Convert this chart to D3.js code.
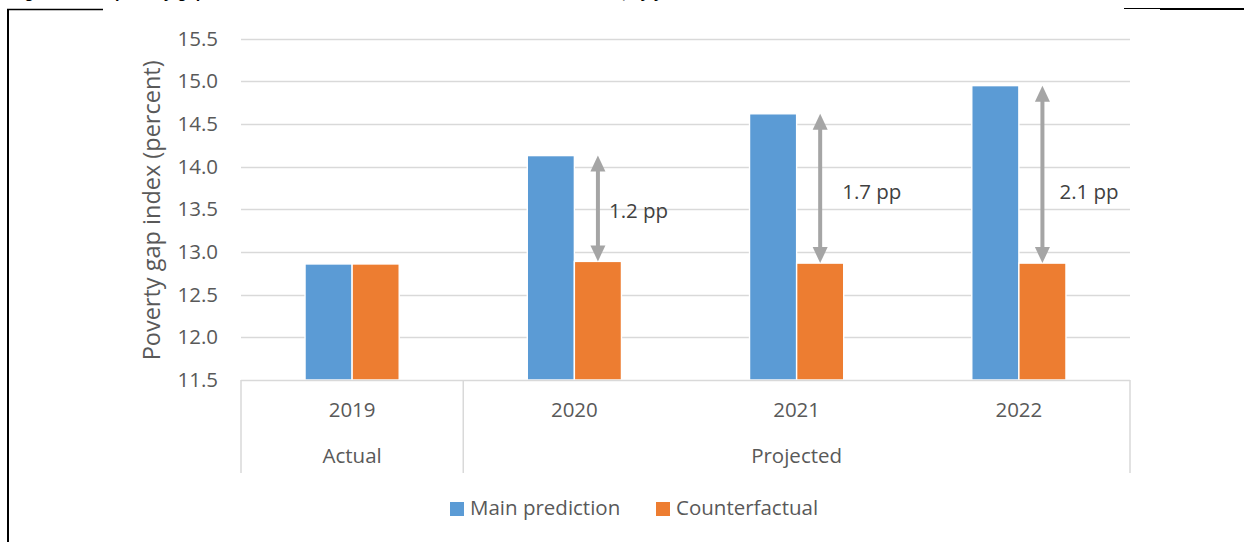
<!DOCTYPE html>
<html>
<head>
<meta charset="utf-8">
<script src="https://cdn.jsdelivr.net/npm/d3@7"></script>
<style>
  html, body { margin: 0; padding: 0; background: #fff; }
  svg { display: block; }
  text { font-family: "Open Sans", "Liberation Sans", sans-serif; fill: #595959; }
</style>
</head>
<body>
<script>
// ---- data ----
const years = ["2019", "2020", "2021", "2022"];
const periods = ["Actual", "Projected", "Projected", "Projected"];
const seriesNames = ["Main prediction", "Counterfactual"];
const mainPrediction = [12.86, 14.13, 14.62, 14.95];
const counterfactual = [12.86, 12.89, 12.87, 12.87];
const gapLabels = [null, "1.2 pp", "1.7 pp", "2.1 pp"];
const yTicks = [11.5, 12.0, 12.5, 13.0, 13.5, 14.0, 14.5, 15.0, 15.5];
const colors = ["#5b9bd5", "#ed7d31"];

const W = 1244, H = 542;
const FS = "20.5px";
const svg = d3.select("body").append("svg").attr("width", W).attr("height", H);

// ---- page frame and clipped caption ----
svg.append("text")
  .attr("x", 10).attr("y", -2)
  .style("font-weight", "bold").style("font-size", "16px").style("fill", "#000")
  .style("font-family", "'Liberation Sans', sans-serif")
  .text("Figure 6: The poverty gap index increases relative to the counterfactual baseline, by year");
svg.append("line").attr("x1", 7).attr("x2", 103).attr("y1", 9.5).attr("y2", 9.5)
  .attr("stroke", "#000").attr("stroke-width", 1.5);
svg.append("line").attr("x1", 1124).attr("x2", 1160).attr("y1", 8.5).attr("y2", 8.5)
  .attr("stroke", "#000").attr("stroke-width", 1);
svg.append("line").attr("x1", 1160).attr("x2", 1244).attr("y1", 9).attr("y2", 9)
  .attr("stroke", "#000").attr("stroke-width", 2);
svg.append("line").attr("x1", 8).attr("x2", 8).attr("y1", 9).attr("y2", H)
  .attr("stroke", "#000").attr("stroke-width", 2);

// ---- scales ----
const plot = { left: 241, right: 1130, top: 38.7, bottom: 380 };
const x0 = d3.scaleBand().domain(years).range([plot.left, plot.right]).padding(0);
const x1 = d3.scaleBand().domain(seriesNames).range([0, x0.bandwidth()])
  .paddingInner(0).paddingOuter(1.36);
const y = d3.scaleLinear().domain([11.5, 15.5]).range([plot.bottom, plot.top]);

// ---- gridlines & y tick labels ----
const g = svg.append("g");
g.selectAll("line.grid").data(yTicks.slice(1)).join("line")
  .attr("class", "grid")
  .attr("x1", plot.left).attr("x2", plot.right)
  .attr("y1", d => Math.round(y(d)) + 0.5).attr("y2", d => Math.round(y(d)) + 0.5)
  .attr("stroke", "#d9d9d9").attr("stroke-width", 1.3);

const yAxis = d3.axisLeft(y).tickValues(yTicks).tickFormat(d3.format(".1f")).tickSize(0).tickPadding(0);
const ya = svg.append("g").attr("transform", `translate(${plot.left - 23},0)`).call(yAxis);
ya.select(".domain").remove();
ya.selectAll("text").style("font-size", FS).style("fill", "#595959")
  .style("font-family", "'Open Sans', sans-serif");

svg.append("text")
  .attr("transform", `translate(154,${(plot.top + plot.bottom) / 2 + 1}) rotate(-90)`)
  .attr("text-anchor", "middle").attr("dominant-baseline", "middle")
  .style("font-size", "23.5px")
  .text("Poverty gap index (percent)");

// ---- bars ----
const rows = years.map((yr, i) => ({ yr, vals: [mainPrediction[i], counterfactual[i]] }));
const groups = svg.append("g").selectAll("g").data(rows).join("g")
  .attr("transform", d => `translate(${x0(d.yr)},0)`);
groups.selectAll("rect").data(d => d.vals.map((v, k) => ({ v, k }))).join("rect")
  .attr("x", d => x1(seriesNames[d.k]))
  .attr("width", x1.bandwidth())
  .attr("y", d => y(d.v))
  .attr("height", d => y(11.5) - y(d.v))
  .attr("fill", d => colors[d.k])
  .attr("stroke", "#fff").attr("stroke-width", 1.4);

// ---- category axis (years + period grouping) ----
const axisBottom = 473;
svg.append("line").attr("x1", plot.left).attr("x2", plot.right)
  .attr("y1", plot.bottom + 0.5).attr("y2", plot.bottom + 0.5)
  .attr("stroke", "#d9d9d9").attr("stroke-width", 1.5);
// group boundaries: before first year, between Actual and Projected, after last
const bounds = [x0(years[0]), x0(years[1]), x0(years[years.length - 1]) + x0.bandwidth()];
svg.selectAll("line.sep").data(bounds).join("line")
  .attr("class", "sep")
  .attr("x1", d => d).attr("x2", d => d)
  .attr("y1", plot.bottom).attr("y2", axisBottom)
  .attr("stroke", "#d9d9d9").attr("stroke-width", 1.5);

svg.selectAll("text.year").data(years).join("text")
  .attr("class", "year")
  .attr("x", d => x0(d) + x0.bandwidth() / 2).attr("y", 412)
  .attr("text-anchor", "middle").attr("dominant-baseline", "middle")
  .style("font-size", FS).text(d => d);

const periodGroups = d3.groups(years.map((yr, i) => ({ yr, p: periods[i] })), d => d.p);
svg.selectAll("text.period").data(periodGroups).join("text")
  .attr("class", "period")
  .attr("x", d => {
    const first = x0(d[1][0].yr), last = x0(d[1][d[1].length - 1].yr) + x0.bandwidth();
    return (first + last) / 2;
  })
  .attr("y", 458)
  .attr("text-anchor", "middle").attr("dominant-baseline", "middle")
  .style("font-size", FS).text(d => d[0]);

// ---- gap arrows ----
const arrowColor = "#a5a5a5";
const headLen = 16, headHalf = 7.5;
const labelShift = [0, 11, 22, 17]; // hand-placed text boxes beside each arrow
rows.forEach((r, i) => {
  if (!gapLabels[i]) return;
  const cx = x0(r.yr) + x1(seriesNames[1]) + x1.bandwidth() / 2;
  const yTop = y(mainPrediction[i]), yBot = y(counterfactual[i]);
  const a = svg.append("g");
  a.append("line").attr("x1", cx).attr("x2", cx)
    .attr("y1", yTop + headLen - 2).attr("y2", yBot - headLen + 2)
    .attr("stroke", arrowColor).attr("stroke-width", 4);
  a.append("path")
    .attr("d", `M${cx},${yTop}L${cx - headHalf},${yTop + headLen}L${cx + headHalf},${yTop + headLen}Z`)
    .attr("fill", arrowColor);
  a.append("path")
    .attr("d", `M${cx},${yBot}L${cx - headHalf},${yBot - headLen}L${cx + headHalf},${yBot - headLen}Z`)
    .attr("fill", arrowColor);
  const mid = (yTop + yBot) / 2;
  const ly = Math.max(mid + 4, y(13.7) + 1);
  a.append("text")
    .attr("x", cx + labelShift[i]).attr("y", ly)
    .attr("dominant-baseline", "middle")
    .style("font-size", FS).style("fill", "#404040")
    .text(gapLabels[i]);
});

// ---- legend ----
const legendItems = [{ name: seriesNames[0], x: 450 }, { name: seriesNames[1], x: 656 }];
const lg = svg.append("g").selectAll("g").data(legendItems).join("g")
  .attr("transform", d => `translate(${d.x},502)`);
lg.append("rect").attr("width", 14).attr("height", 14)
  .attr("fill", (d, i) => colors[i]);
lg.append("text").attr("x", 20).attr("y", 8)
  .attr("dominant-baseline", "middle")
  .style("font-size", FS).text(d => d.name);
</script>
</body>
</html>
